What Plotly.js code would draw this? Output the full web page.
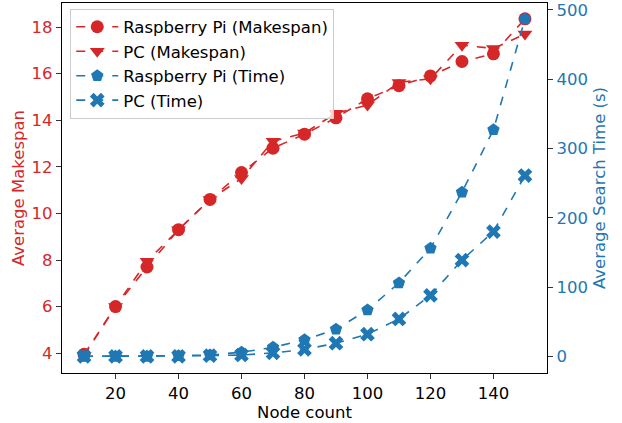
<!DOCTYPE html>
<html>
<head>
<meta charset="utf-8">
<script src="https://cdn.plot.ly/plotly-3.0.1.min.js"></script>
<style>html,body{margin:0;padding:0;background:#fff;}#chart{width:622px;height:423px;}</style>
</head>
<body>
<div id="chart"></div>
<script>
const nodeCount = [10, 20, 30, 40, 50, 60, 70, 80, 90, 100, 110, 120, 130, 140, 150];
const rpiMakespan = [3.95, 6.0, 7.7, 9.3, 10.6, 11.75, 12.8, 13.4, 14.1, 14.92, 15.48, 15.9, 16.52, 16.85, 18.35];
const pcMakespan = [3.9, 6.0, 7.95, 9.3, 10.6, 11.5, 13.1, 13.45, 14.3, 14.65, 15.62, 15.78, 17.22, 17.08, 17.7];
const rpiTime = [0, 0, 0, 1, 2, 6, 13, 24, 39, 67, 106, 156, 237, 327, 487];
const pcTime = [0, 0, 0, 0, 1, 2, 5, 10, 19, 32, 54, 88, 139, 180, 261];

const RED = '#d62728', BLUE = '#1f77b4';
const FONT = 'DejaVu Sans, sans-serif';
const FS = 16.5;

const traces = [
  {x: nodeCount, y: rpiMakespan, name: 'Raspberry Pi (Makespan)', type: 'scatter', mode: 'lines+markers',
   line: {color: RED, dash: 'dash', width: 1.6}, marker: {symbol: 'circle', size: 13, color: RED}, yaxis: 'y'},
  {x: nodeCount, y: pcMakespan, name: 'PC (Makespan)', type: 'scatter', mode: 'lines+markers',
   line: {color: RED, dash: 'dash', width: 1.6}, marker: {symbol: 'triangle-down', size: 13, color: RED}, yaxis: 'y'},
  {x: nodeCount, y: rpiTime, name: 'Raspberry Pi (Time)', type: 'scatter', mode: 'lines+markers',
   line: {color: BLUE, dash: 'dash', width: 1.6}, marker: {symbol: 'pentagon', size: 13, color: BLUE}, yaxis: 'y2'},
  {x: nodeCount, y: pcTime, name: 'PC (Time)', type: 'scatter', mode: 'lines+markers',
   line: {color: BLUE, dash: 'dash', width: 1.6}, marker: {symbol: 'x', size: 13, color: BLUE}, yaxis: 'y2'}
];

const layout = {
  width: 622, height: 423,
  margin: {l: 62, r: 75, t: 3, b: 50},
  paper_bgcolor: '#fff', plot_bgcolor: '#fff',
  font: {family: FONT, size: FS, color: '#000'},
  showlegend: true,
  legend: {x: 0.017, y: 0.985, xanchor: 'left', yanchor: 'top', bgcolor: 'rgba(255,255,255,0.8)',
           bordercolor: '#cccccc', borderwidth: 1, font: {family: FONT, size: FS, color: '#000'},
           tracegroupgap: 0, itemwidth: 42},
  xaxis: {range: [3, 157], tickvals: [20, 40, 60, 80, 100, 120, 140], showgrid: false, zeroline: false,
          showline: true, linecolor: '#000', linewidth: 1.2, mirror: true,
          ticks: 'outside', ticklen: 5, tickcolor: '#333', tickfont: {size: FS, color: '#000'},
          title: {text: 'Node count', font: {size: FS, color: '#000'}, standoff: 4}},
  yaxis: {range: [3.15, 19.03], tickvals: [4, 6, 8, 10, 12, 14, 16, 18], showgrid: false, zeroline: false,
          showline: true, linecolor: '#000', linewidth: 1.2,
          ticks: 'outside', ticklen: 5, tickcolor: '#333', tickfont: {size: FS, color: RED},
          title: {text: 'Average Makespan', font: {size: FS, color: RED}, standoff: 2}},
  yaxis2: {overlaying: 'y', side: 'right', range: [-24, 510], tickvals: [0, 100, 200, 300, 400, 500],
           showgrid: false, zeroline: false, showline: true, linecolor: '#000', linewidth: 1.2,
           ticks: 'outside', ticklen: 5, tickcolor: '#333', tickfont: {size: FS, color: BLUE},
           title: {text: 'Average Search Time (s)', font: {size: FS, color: BLUE}, standoff: 6}}
};

Plotly.newPlot('chart', traces, layout, {displayModeBar: false, staticPlot: true});
</script>
</body>
</html>
